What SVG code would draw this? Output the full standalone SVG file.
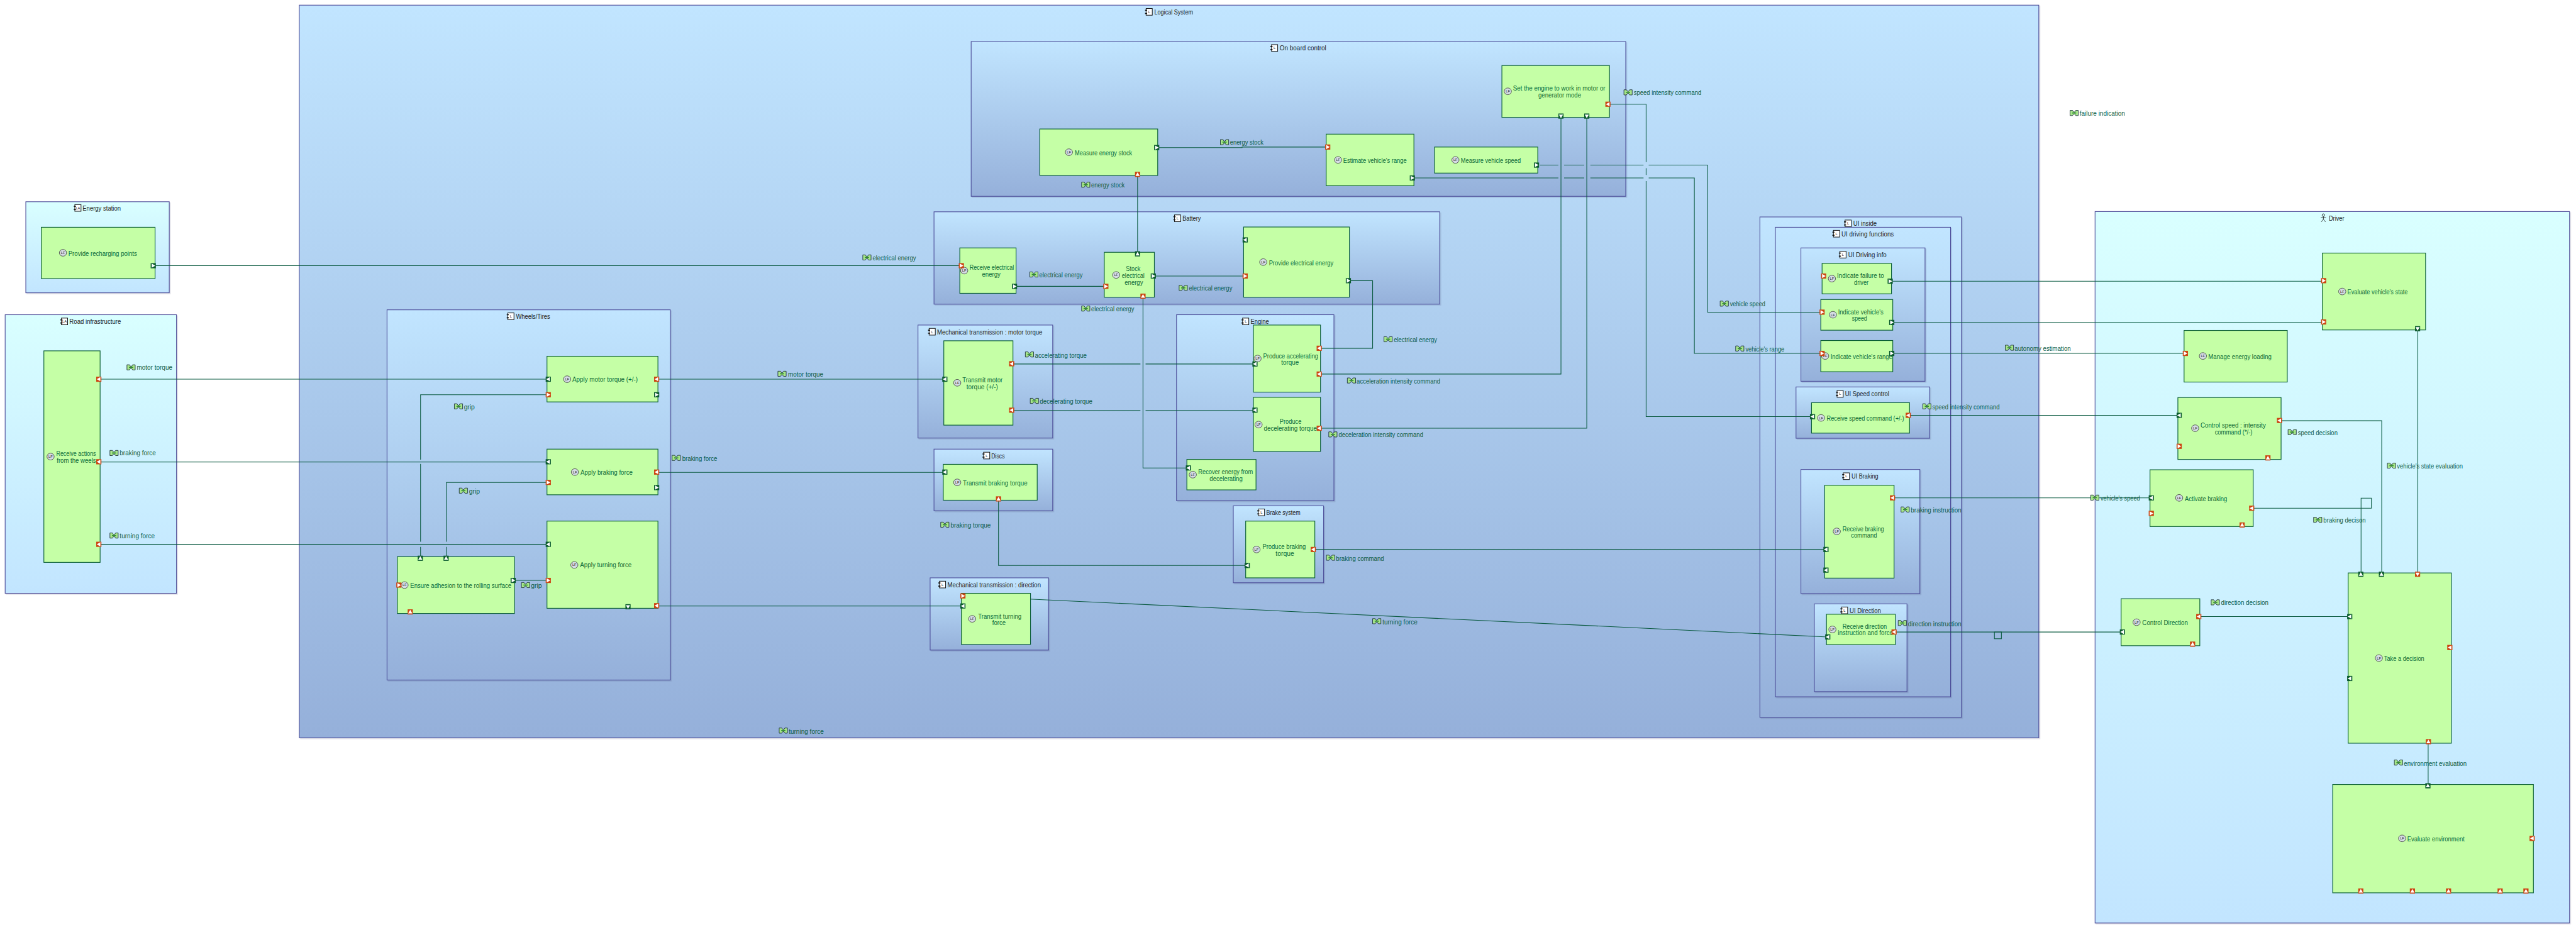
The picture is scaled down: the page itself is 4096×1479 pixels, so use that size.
<svg xmlns="http://www.w3.org/2000/svg" xmlns:xlink="http://www.w3.org/1999/xlink" width="4096" height="1479" viewBox="0 0 4096 1479">
<style>
text{font-family:"Liberation Sans",Arial,sans-serif;font-size:14px;dominant-baseline:central}
.t{fill:#1c1c1c}
.f{fill:#0a6b38}
.x{fill:#0a5c48}
.c{fill:url(#lc);stroke:#4a4a97;stroke-width:1.3;filter:drop-shadow(2px 2px 0 rgba(40,40,90,.15))}
.a{fill:url(#la);stroke:#4a4a97;stroke-width:1.3;filter:drop-shadow(2px 2px 0 rgba(40,40,90,.15))}
.n{fill:#c5ffa6;stroke:#0b5f35;stroke-width:1.4}
.l{fill:none;stroke:#0a5a40;stroke-width:1.3}
.i{font-size:7px;text-anchor:middle;fill:#222}
</style>
<defs>
<linearGradient id="lc" x1="0" y1="0" x2="0" y2="1"><stop offset="0" stop-color="#c1e5ff"/><stop offset="1" stop-color="#95b0da"/></linearGradient>
<linearGradient id="la" x1="0" y1="0" x2="0" y2="1"><stop offset="0" stop-color="#d9ffff"/><stop offset="1" stop-color="#c2e5ff"/></linearGradient>
<g id="gl"><rect x="-5" y="-5" width="10" height="10" fill="#0b5b2e"/><polygon points="3,-4 -4,0 3,4" fill="#fff"/></g>
<g id="gr"><rect x="-5" y="-5" width="10" height="10" fill="#0b5b2e"/><polygon points="-3,-4 4,0 -3,4" fill="#fff"/></g>
<g id="gu"><rect x="-5" y="-5" width="10" height="10" fill="#0b5b2e"/><polygon points="-4,3 0,-4 4,3" fill="#fff"/></g>
<g id="gd"><rect x="-5" y="-5" width="10" height="10" fill="#0b5b2e"/><polygon points="-4,-3 0,4 4,-3" fill="#fff"/></g>
<g id="ol"><rect x="-5" y="-5" width="10" height="10" fill="#cc4411"/><polygon points="3,-4 -4,0 3,4" fill="#fff"/></g>
<g id="or"><rect x="-5" y="-5" width="10" height="10" fill="#cc4411"/><polygon points="-3,-4 4,0 -3,4" fill="#fff"/></g>
<g id="ou"><rect x="-5" y="-5" width="10" height="10" fill="#cc4411"/><polygon points="-4,3 0,-4 4,3" fill="#fff"/></g>
<g id="od"><rect x="-5" y="-5" width="10" height="10" fill="#cc4411"/><polygon points="-4,-3 0,4 4,-3" fill="#fff"/></g>
<g id="ex"><path d="M-8,-5H-3L-1,-2H1L3,-5H8V5H3L1,2H-1L-3,5H-8Z" fill="#a8e68c" stroke="#123" stroke-width="1"/><path d="M-4,0H4" stroke="#2f8a30" stroke-width="2"/></g>
<g id="lf"><ellipse rx="7" ry="6.5" fill="#d5dce4" stroke="#3a3a3a" stroke-width="1"/><text class="i">LF</text></g>
<g id="ic"><rect x="-5" y="-6.500" width="12" height="13" fill="#fff" stroke="#111" stroke-width="1.200"/><path d="M-7,-3H-3M-7,3H-3" stroke="#111" stroke-width="2"/><text class="i" x="1">L</text></g>
<g id="ia"><rect x="-5" y="-6.500" width="12" height="13" fill="#fff" stroke="#111" stroke-width="1.200"/><path d="M-7,-3H-3M-7,3H-3" stroke="#111" stroke-width="2"/><text class="i" x="1">LA</text></g>
<g id="man"><circle cy="-6" r="2.500" fill="none" stroke="#111"/><path d="M0,-3.500V2M-5,-1H5M0,2L-4,7M0,2L4,7" fill="none" stroke="#111"/></g>
</defs>
<rect width="4096" height="1479" fill="#fff"/>
<g transform="scale(0.82051)">

<g id="energy-station"><rect class="a" x="50" y="391" width="278" height="176.500"/><use href="#ia" x="150" y="403"/><text class="t" x="160" y="403" textLength="74" lengthAdjust="spacingAndGlyphs">Energy station</text></g>
<g id="road-infrastructure"><rect class="a" x="10" y="610" width="332" height="540"/><use href="#ia" x="124" y="623"/><text class="t" x="134.500" y="623" textLength="100" lengthAdjust="spacingAndGlyphs">Road infrastructure</text></g>
<g id="driver"><rect class="a" x="4060" y="410" width="919.500" height="1379"/><use href="#man" x="4502.500" y="423"/><text class="t" x="4513" y="423" textLength="30" lengthAdjust="spacingAndGlyphs">Driver</text></g>
<g id="logical-system"><rect class="c" x="580" y="10" width="3371" height="1420"/><use href="#ic" x="2226" y="23"/><text class="t" x="2237" y="23" textLength="75" lengthAdjust="spacingAndGlyphs">Logical System</text></g>
<g id="wheels-tires"><rect class="c" x="750" y="600.500" width="549" height="717.500"/><use href="#ic" x="989" y="613"/><text class="t" x="1000" y="613" textLength="66" lengthAdjust="spacingAndGlyphs">Wheels/Tires</text></g>
<g id="on-board-control"><rect class="c" x="1882" y="80.500" width="1268.500" height="300"/><use href="#ic" x="2469" y="93"/><text class="t" x="2480" y="93" textLength="90" lengthAdjust="spacingAndGlyphs">On board control</text></g>
<g id="battery"><rect class="c" x="1810" y="410.500" width="980" height="179"/><use href="#ic" x="2281" y="423"/><text class="t" x="2291.500" y="423" textLength="35.500" lengthAdjust="spacingAndGlyphs">Battery</text></g>
<g id="mt-motor"><rect class="c" x="1779" y="630" width="261" height="219"/><use href="#ic" x="1805.500" y="643"/><text class="t" x="1816" y="643" textLength="204" lengthAdjust="spacingAndGlyphs">Mechanical transmission : motor torque</text></g>
<g id="engine"><rect class="c" x="2280" y="610" width="305" height="360.500"/><use href="#ic" x="2413" y="623"/><text class="t" x="2423.500" y="623" textLength="35.500" lengthAdjust="spacingAndGlyphs">Engine</text></g>
<g id="discs"><rect class="c" x="1810" y="870.500" width="230" height="119.500"/><use href="#ic" x="1911" y="883"/><text class="t" x="1921" y="883" textLength="26" lengthAdjust="spacingAndGlyphs">Discs</text></g>
<g id="brake-system"><rect class="c" x="2390" y="980.500" width="175" height="149"/><use href="#ic" x="2443.500" y="993"/><text class="t" x="2454" y="993" textLength="66" lengthAdjust="spacingAndGlyphs">Brake system</text></g>
<g id="mt-direction"><rect class="c" x="1802.500" y="1120" width="229.500" height="140"/><use href="#ic" x="1825.500" y="1133"/><text class="t" x="1836" y="1133" textLength="181" lengthAdjust="spacingAndGlyphs">Mechanical transmission : direction</text></g>
<g id="ui-inside"><rect class="c" x="3410.500" y="420.500" width="390.500" height="970"/><use href="#ic" x="3580.500" y="433"/><text class="t" x="3591.500" y="433" textLength="45.500" lengthAdjust="spacingAndGlyphs">UI inside</text></g>
<g id="ui-driving-functions"><rect class="c" x="3440.500" y="440.500" width="339.500" height="910"/><use href="#ic" x="3558" y="453"/><text class="t" x="3568.500" y="453" textLength="101.500" lengthAdjust="spacingAndGlyphs">UI driving functions</text></g>
<g id="ui-driving-info"><rect class="c" x="3490" y="480.500" width="240.500" height="258.500"/><use href="#ic" x="3570.500" y="493.500"/><text class="t" x="3581.500" y="493.500" textLength="74.500" lengthAdjust="spacingAndGlyphs">UI Driving info</text></g>
<g id="ui-speed-control"><rect class="c" x="3480.500" y="750" width="259" height="99.500"/><use href="#ic" x="3565" y="763.500"/><text class="t" x="3575.500" y="763.500" textLength="85.500" lengthAdjust="spacingAndGlyphs">UI Speed control</text></g>
<g id="ui-braking"><rect class="c" x="3490" y="910" width="230.500" height="240.500"/><use href="#ic" x="3577" y="923"/><text class="t" x="3588" y="923" textLength="52" lengthAdjust="spacingAndGlyphs">UI Braking</text></g>
<g id="ui-direction"><rect class="c" x="3516" y="1170.500" width="179.500" height="170"/><use href="#ic" x="3573.500" y="1183"/><text class="t" x="3584.500" y="1183" textLength="60.500" lengthAdjust="spacingAndGlyphs">UI Direction</text></g>

<g id="connectors">
<path class="l" d="M297,515H1863"/>
<path class="l" d="M194,735H1062M1275,735H1831"/>
<path class="l" d="M194,895.500H1060"/>
<path class="l" d="M194,1055H1060"/>
<path class="l" d="M1060,765H815V891M815,899V1050M815,1060V1079"/>
<path class="l" d="M1060,935H865V1050M865,1060V1079"/>
<path class="l" d="M997,1125H1060"/>
<path class="l" d="M1275,915.500H1831"/>
<path class="l" d="M1275,1174.500H1866"/>
<path class="l" d="M2243,286H2407V285H2573"/>
<path class="l" d="M2204.500,340V489"/>
<path class="l" d="M2984,320H3020M3031,320H3070M3082,320H3185M3195,320H3309V605H3531"/>
<path class="l" d="M2740,345H3020M3031,345H3070M3082,345H3185M3195,345H3283.500V685H3531"/>
<path class="l" d="M3119,202H3190V314M3190,326V339M3190,351V807.500H3512"/>
<path class="l" d="M1969,555H2140"/>
<path class="l" d="M2237,535H2410"/>
<path class="l" d="M2615,544H2660V675H2559"/>
<path class="l" d="M2215,576V907H2300"/>
<path class="l" d="M1963,705.500H2210M2220,705.500H2432"/>
<path class="l" d="M1963,795.500H2210M2220,795.500H2432"/>
<path class="l" d="M2559,725H3025V227"/>
<path class="l" d="M2559,830H3075V227"/>
<path class="l" d="M1935,970V1096H2417"/>
<path class="l" d="M2548,1065H3538"/>
<path class="l" d="M1866,1155L3542,1234.500"/>
<path class="l" d="M3668,545H4503"/>
<path class="l" d="M3668,625H4503"/>
<path class="l" d="M3668,685H4235"/>
<path class="l" d="M3700,805H4223"/>
<path class="l" d="M3670,965H4169"/>
<path class="l" d="M3673,1225H4112"/>
<rect class="l" x="3865" y="1225" width="13.500" height="13"/>
<path class="l" d="M4685.500,639V1110"/>
<path class="l" d="M4420,815.500H4615.500V1110"/>
<path class="l" d="M4366,985H4595.500V965.500H4575.500V1110"/>
<path class="l" d="M4263,1195H4550"/>
<path class="l" d="M4705.500,1440V1520"/>
</g>

<g id="f-provide-recharging"><rect class="n" x="80" y="440.500" width="220.500" height="99.500"/><use href="#lf" x="122" y="490"/><text class="f" x="132.500" y="491" textLength="133" lengthAdjust="spacingAndGlyphs">Provide recharging points</text><use href="#gr" x="297" y="515"/></g>
<g id="f-receive-actions"><rect class="n" x="85" y="680" width="109" height="410"/><use href="#lf" x="98" y="885"/><text class="f" x="109" y="879" textLength="77" lengthAdjust="spacingAndGlyphs">Receive actions</text><text class="f" x="110" y="892" textLength="76" lengthAdjust="spacingAndGlyphs">from the weels</text><use href="#ol" x="191.500" y="735"/><use href="#ol" x="191.500" y="895"/><use href="#ol" x="191.500" y="1055"/></g>
<g id="f-apply-motor"><rect class="n" x="1060" y="690.500" width="215" height="88.500"/><use href="#lf" x="1099" y="735"/><text class="f" x="1109" y="735" textLength="127" lengthAdjust="spacingAndGlyphs">Apply motor torque (+/-)</text><use href="#gl" x="1062.500" y="735"/><use href="#or" x="1062.500" y="765"/><use href="#ol" x="1272.500" y="735"/><use href="#gr" x="1272.500" y="765"/></g>
<g id="f-apply-braking"><rect class="n" x="1060" y="870.500" width="215" height="88.500"/><use href="#lf" x="1114" y="915"/><text class="f" x="1125" y="915" textLength="101" lengthAdjust="spacingAndGlyphs">Apply braking force</text><use href="#gl" x="1062.500" y="895"/><use href="#or" x="1062.500" y="935"/><use href="#ol" x="1272.500" y="915"/><use href="#gr" x="1272.500" y="945"/></g>
<g id="f-apply-turning"><rect class="n" x="1060" y="1010" width="215" height="169"/><use href="#lf" x="1113" y="1095"/><text class="f" x="1124" y="1095" textLength="100" lengthAdjust="spacingAndGlyphs">Apply turning force</text><use href="#gl" x="1062.500" y="1055"/><use href="#or" x="1062.500" y="1125"/><use href="#ol" x="1272.500" y="1174"/><use href="#gd" x="1217" y="1176"/></g>
<g id="f-ensure-adhesion"><rect class="n" x="770" y="1079" width="227" height="110"/><use href="#lf" x="784" y="1134"/><text class="f" x="795" y="1135" textLength="196" lengthAdjust="spacingAndGlyphs">Ensure adhesion to the rolling surface</text><use href="#or" x="773" y="1134"/><use href="#ou" x="795" y="1186"/><use href="#gr" x="994.500" y="1125"/><use href="#gu" x="814.500" y="1082"/><use href="#gu" x="864.500" y="1082"/></g>

<g id="f-set-engine"><rect class="n" x="2910.500" y="127" width="208.500" height="100.500"/><use href="#lf" x="2922" y="177"/><text class="f" x="2932" y="171" textLength="179" lengthAdjust="spacingAndGlyphs">Set the engine to work in motor or</text><text class="f" x="2981" y="184.500" textLength="83" lengthAdjust="spacingAndGlyphs">generator mode</text><use href="#ol" x="3116" y="202"/><use href="#gd" x="3025" y="225"/><use href="#gd" x="3075" y="225"/></g>
<g id="f-measure-energy"><rect class="n" x="2015" y="250" width="228.500" height="90"/><use href="#lf" x="2071.500" y="295"/><text class="f" x="2083" y="296" textLength="111" lengthAdjust="spacingAndGlyphs">Measure energy stock</text><use href="#gr" x="2241.500" y="286"/><use href="#ou" x="2204.500" y="338"/></g>
<g id="f-estimate-range"><rect class="n" x="2570" y="260" width="170" height="100"/><use href="#lf" x="2593" y="310"/><text class="f" x="2603" y="311" textLength="123" lengthAdjust="spacingAndGlyphs">Estimate vehicle's range</text><use href="#or" x="2573" y="285"/><use href="#gr" x="2737" y="345"/></g>
<g id="f-measure-speed"><rect class="n" x="2780" y="285" width="200" height="50.500"/><use href="#lf" x="2820.500" y="310"/><text class="f" x="2831" y="311" textLength="116" lengthAdjust="spacingAndGlyphs">Measure vehicle speed</text><use href="#gr" x="2977.500" y="320"/></g>
<g id="f-receive-electrical"><rect class="n" x="1860" y="480.500" width="109" height="88"/><use href="#lf" x="1868.500" y="524.500"/><text class="f" x="1879" y="518" textLength="86" lengthAdjust="spacingAndGlyphs">Receive electrical</text><text class="f" x="1903" y="531.500" textLength="36" lengthAdjust="spacingAndGlyphs">energy</text><use href="#or" x="1863" y="515"/><use href="#gr" x="1966" y="555"/></g>
<g id="f-stock-electrical"><rect class="n" x="2140" y="489" width="97" height="87"/><use href="#lf" x="2163" y="533"/><text class="f" x="2182" y="520" textLength="28" lengthAdjust="spacingAndGlyphs">Stock</text><text class="f" x="2174" y="533.500" textLength="44" lengthAdjust="spacingAndGlyphs">electrical</text><text class="f" x="2179.500" y="547" textLength="35.500" lengthAdjust="spacingAndGlyphs">energy</text><use href="#or" x="2143" y="555"/><use href="#gr" x="2235" y="535"/><use href="#gu" x="2204.500" y="492"/><use href="#ou" x="2215" y="574"/></g>
<g id="f-provide-electrical"><rect class="n" x="2410" y="440" width="205" height="136"/><use href="#lf" x="2448" y="508"/><text class="f" x="2459" y="509.500" textLength="125" lengthAdjust="spacingAndGlyphs">Provide electrical energy</text><use href="#gl" x="2413" y="465"/><use href="#or" x="2413" y="535"/><use href="#gr" x="2613" y="544"/></g>
<g id="f-transmit-motor"><rect class="n" x="1829" y="660.500" width="134" height="163.500"/><use href="#lf" x="1855" y="742"/><text class="f" x="1865" y="736.500" textLength="78" lengthAdjust="spacingAndGlyphs">Transmit motor</text><text class="f" x="1873" y="749.500" textLength="61" lengthAdjust="spacingAndGlyphs">torque (+/-)</text><use href="#gl" x="1831" y="735"/><use href="#ol" x="1960.500" y="705"/><use href="#ol" x="1960.500" y="795"/></g>
<g id="f-produce-accelerating"><rect class="n" x="2429" y="630" width="130" height="130"/><use href="#lf" x="2437" y="695"/><text class="f" x="2448" y="689.500" textLength="106.500" lengthAdjust="spacingAndGlyphs">Produce accelerating</text><text class="f" x="2483" y="702.500" textLength="34" lengthAdjust="spacingAndGlyphs">torque</text><use href="#gl" x="2432" y="705.500"/><use href="#ol" x="2556.500" y="675"/><use href="#ol" x="2556.500" y="725"/></g>
<g id="f-produce-decelerating"><rect class="n" x="2429" y="770" width="130" height="105"/><use href="#lf" x="2439" y="823"/><text class="f" x="2480" y="817" textLength="42" lengthAdjust="spacingAndGlyphs">Produce</text><text class="f" x="2449" y="830" textLength="103" lengthAdjust="spacingAndGlyphs">decelerating torque</text><use href="#gl" x="2432" y="795"/><use href="#ol" x="2556.500" y="830"/></g>
<g id="f-recover-energy"><rect class="n" x="2300" y="890.500" width="134" height="59"/><use href="#lf" x="2311.500" y="920"/><text class="f" x="2322" y="914" textLength="106" lengthAdjust="spacingAndGlyphs">Recover energy from</text><text class="f" x="2344" y="927" textLength="64" lengthAdjust="spacingAndGlyphs">decelerating</text><use href="#gl" x="2303" y="907"/></g>
<g id="f-transmit-braking"><rect class="n" x="1828" y="900" width="182" height="69.500"/><use href="#lf" x="1855" y="935"/><text class="f" x="1866" y="935.500" textLength="125" lengthAdjust="spacingAndGlyphs">Transmit braking torque</text><use href="#gl" x="1831" y="915"/><use href="#ou" x="1935" y="967"/></g>
<g id="f-produce-braking"><rect class="n" x="2414" y="1010" width="134" height="110"/><use href="#lf" x="2435" y="1065"/><text class="f" x="2446.500" y="1059" textLength="84" lengthAdjust="spacingAndGlyphs">Produce braking</text><text class="f" x="2472" y="1072" textLength="36" lengthAdjust="spacingAndGlyphs">torque</text><use href="#ol" x="2545" y="1065"/><use href="#gl" x="2417" y="1096"/></g>
<g id="f-transmit-turning"><rect class="n" x="1863" y="1150" width="134" height="99"/><use href="#lf" x="1884" y="1199.500"/><text class="f" x="1895.500" y="1194.500" textLength="84" lengthAdjust="spacingAndGlyphs">Transmit turning</text><text class="f" x="1923" y="1207" textLength="26" lengthAdjust="spacingAndGlyphs">force</text><use href="#or" x="1866" y="1155"/><use href="#gl" x="1866" y="1174.500"/></g>

<g id="f-indicate-failure"><rect class="n" x="3531" y="510.500" width="134.500" height="59"/><use href="#lf" x="3550" y="540"/><text class="f" x="3560" y="534" textLength="91" lengthAdjust="spacingAndGlyphs">Indicate failure to</text><text class="f" x="3593" y="547" textLength="28" lengthAdjust="spacingAndGlyphs">driver</text><use href="#or" x="3534" y="535"/><use href="#gr" x="3663" y="545"/></g>
<g id="f-indicate-speed"><rect class="n" x="3528.500" y="580.500" width="139.500" height="59.500"/><use href="#lf" x="3552" y="610"/><text class="f" x="3562" y="604" textLength="88" lengthAdjust="spacingAndGlyphs">Indicate vehicle's</text><text class="f" x="3589" y="617" textLength="29" lengthAdjust="spacingAndGlyphs">speed</text><use href="#or" x="3531" y="605"/><use href="#gr" x="3666" y="625"/></g>
<g id="f-indicate-range"><rect class="n" x="3528.500" y="660" width="139.500" height="60.500"/><use href="#lf" x="3537" y="690"/><text class="f" x="3547.500" y="691" textLength="119.500" lengthAdjust="spacingAndGlyphs">Indicate vehicle's range</text><use href="#or" x="3531" y="685"/><use href="#gr" x="3666" y="685"/></g>
<g id="f-receive-speed"><rect class="n" x="3510.500" y="780.500" width="190" height="59"/><use href="#lf" x="3529" y="810"/><text class="f" x="3540" y="810" textLength="150" lengthAdjust="spacingAndGlyphs">Receive speed command (+/-)</text><use href="#gl" x="3512.500" y="807.500"/><use href="#ol" x="3698" y="805"/></g>
<g id="f-receive-braking"><rect class="n" x="3536" y="940.500" width="134.500" height="180"/><use href="#lf" x="3559.500" y="1030"/><text class="f" x="3570.500" y="1024.500" textLength="80.500" lengthAdjust="spacingAndGlyphs">Receive braking</text><text class="f" x="3587" y="1037.500" textLength="50.500" lengthAdjust="spacingAndGlyphs">command</text><use href="#ol" x="3667.500" y="965"/><use href="#gl" x="3538.500" y="1065"/><use href="#gl" x="3538.500" y="1105"/></g>
<g id="f-receive-direction"><rect class="n" x="3539.500" y="1190.500" width="133.500" height="59"/><use href="#lf" x="3551" y="1220"/><text class="f" x="3570.500" y="1214" textLength="86" lengthAdjust="spacingAndGlyphs">Receive direction</text><text class="f" x="3561.500" y="1226.500" textLength="107" lengthAdjust="spacingAndGlyphs">instruction and force</text><use href="#gl" x="3542" y="1234.500"/><use href="#ol" x="3670.500" y="1225"/></g>

<g id="f-evaluate-state"><rect class="n" x="4500.500" y="490.500" width="200" height="149"/><use href="#lf" x="4539" y="565"/><text class="f" x="4549" y="565" textLength="117" lengthAdjust="spacingAndGlyphs">Evaluate vehicle's state</text><use href="#or" x="4503" y="544"/><use href="#or" x="4503" y="624"/><use href="#gd" x="4685" y="637"/></g>
<g id="f-manage-energy"><rect class="n" x="4232.500" y="640.500" width="200" height="100"/><use href="#lf" x="4269" y="690"/><text class="f" x="4279.500" y="691" textLength="122.500" lengthAdjust="spacingAndGlyphs">Manage energy loading</text><use href="#or" x="4235" y="685"/></g>
<g id="f-control-speed"><rect class="n" x="4220.500" y="770.500" width="200" height="120"/><use href="#lf" x="4254" y="830"/><text class="f" x="4264.500" y="824" textLength="126.500" lengthAdjust="spacingAndGlyphs">Control speed : intensity</text><text class="f" x="4292" y="837" textLength="73" lengthAdjust="spacingAndGlyphs">command (*/-)</text><use href="#gl" x="4223" y="805"/><use href="#ol" x="4417.500" y="815"/><use href="#or" x="4223" y="865"/><use href="#ou" x="4395" y="887.500"/></g>
<g id="f-activate-braking"><rect class="n" x="4166.500" y="910.500" width="200" height="110"/><use href="#lf" x="4223" y="965"/><text class="f" x="4234" y="966" textLength="82" lengthAdjust="spacingAndGlyphs">Activate braking</text><use href="#gl" x="4169" y="965"/><use href="#or" x="4169" y="995"/><use href="#ol" x="4363.500" y="985"/><use href="#ou" x="4345" y="1017.500"/></g>
<g id="f-control-direction"><rect class="n" x="4110.500" y="1160.500" width="152.500" height="91"/><use href="#lf" x="4140.500" y="1206"/><text class="f" x="4151.500" y="1206.500" textLength="88.500" lengthAdjust="spacingAndGlyphs">Control Direction</text><use href="#ol" x="4261" y="1195"/><use href="#gl" x="4113" y="1225"/><use href="#ou" x="4249" y="1248.500"/></g>
<g id="f-take-decision"><rect class="n" x="4550.500" y="1110.500" width="200" height="330"/><use href="#lf" x="4610" y="1275.500"/><text class="f" x="4620" y="1276" textLength="78" lengthAdjust="spacingAndGlyphs">Take a decision</text><use href="#gu" x="4575" y="1113"/><use href="#gu" x="4615" y="1113"/><use href="#od" x="4685" y="1113"/><use href="#gl" x="4553.500" y="1195"/><use href="#gl" x="4553.500" y="1315"/><use href="#ol" x="4747.500" y="1255"/><use href="#ou" x="4706" y="1437.500"/></g>
<g id="f-evaluate-environment"><rect class="n" x="4520.500" y="1520.500" width="389" height="210"/><use href="#lf" x="4655" y="1625"/><text class="f" x="4665" y="1626" textLength="111" lengthAdjust="spacingAndGlyphs">Evaluate environment</text><use href="#gu" x="4705" y="1523"/><use href="#ol" x="4907" y="1625"/><use href="#ou" x="4575" y="1727"/><use href="#ou" x="4675" y="1727"/><use href="#ou" x="4745" y="1727"/><use href="#ou" x="4845" y="1727"/><use href="#ou" x="4895" y="1727"/></g>

<g id="exchange-labels">
<use href="#ex" x="254" y="712"/><text class="x" x="265" y="712" textLength="69" lengthAdjust="spacingAndGlyphs">motor torque</text>
<use href="#ex" x="221" y="878"/><text class="x" x="232" y="878" textLength="70" lengthAdjust="spacingAndGlyphs">braking force</text>
<use href="#ex" x="221" y="1038"/><text class="x" x="232" y="1038" textLength="68" lengthAdjust="spacingAndGlyphs">turning force</text>
<use href="#ex" x="888.500" y="787.500"/><text class="x" x="899" y="788" textLength="21" lengthAdjust="spacingAndGlyphs">grip</text>
<use href="#ex" x="898" y="951"/><text class="x" x="909" y="951.500" textLength="21" lengthAdjust="spacingAndGlyphs">grip</text>
<use href="#ex" x="1018.500" y="1134"/><text class="x" x="1029" y="1134.500" textLength="21" lengthAdjust="spacingAndGlyphs">grip</text>
<use href="#ex" x="1515.500" y="724.500"/><text class="x" x="1527" y="725" textLength="68.500" lengthAdjust="spacingAndGlyphs">motor torque</text>
<use href="#ex" x="1310.500" y="887.500"/><text class="x" x="1322" y="888" textLength="68" lengthAdjust="spacingAndGlyphs">braking force</text>
<use href="#ex" x="1518" y="1416"/><text class="x" x="1528.500" y="1417" textLength="68" lengthAdjust="spacingAndGlyphs">turning force</text>
<use href="#ex" x="1680" y="499"/><text class="x" x="1691" y="499.500" textLength="84" lengthAdjust="spacingAndGlyphs">electrical energy</text>
<use href="#ex" x="2003.500" y="532"/><text class="x" x="2014" y="532.500" textLength="84" lengthAdjust="spacingAndGlyphs">electrical energy</text>
<use href="#ex" x="2293" y="558"/><text class="x" x="2304" y="558.500" textLength="84" lengthAdjust="spacingAndGlyphs">electrical energy</text>
<use href="#ex" x="2104" y="598"/><text class="x" x="2114.500" y="598.500" textLength="83.500" lengthAdjust="spacingAndGlyphs">electrical energy</text>
<use href="#ex" x="2690" y="657.500"/><text class="x" x="2701" y="658" textLength="84" lengthAdjust="spacingAndGlyphs">electrical energy</text>
<use href="#ex" x="2373" y="275.500"/><text class="x" x="2383.500" y="276" textLength="65" lengthAdjust="spacingAndGlyphs">energy stock</text>
<use href="#ex" x="2104" y="358"/><text class="x" x="2114.500" y="358.500" textLength="65" lengthAdjust="spacingAndGlyphs">energy stock</text>
<use href="#ex" x="3155" y="179"/><text class="x" x="3166" y="179" textLength="131" lengthAdjust="spacingAndGlyphs">speed intensity command</text>
<use href="#ex" x="1995" y="687"/><text class="x" x="2005.500" y="689" textLength="100.500" lengthAdjust="spacingAndGlyphs">accelerating torque</text>
<use href="#ex" x="2004.500" y="777"/><text class="x" x="2015" y="778" textLength="102" lengthAdjust="spacingAndGlyphs">decelerating torque</text>
<use href="#ex" x="2619" y="737.500"/><text class="x" x="2629" y="738" textLength="162" lengthAdjust="spacingAndGlyphs">acceleration intensity command</text>
<use href="#ex" x="2583" y="842"/><text class="x" x="2594" y="842.500" textLength="164" lengthAdjust="spacingAndGlyphs">deceleration intensity command</text>
<use href="#ex" x="1831" y="1017"/><text class="x" x="1842" y="1018" textLength="78" lengthAdjust="spacingAndGlyphs">braking torque</text>
<use href="#ex" x="2578.500" y="1081"/><text class="x" x="2589" y="1082" textLength="93" lengthAdjust="spacingAndGlyphs">braking command</text>
<use href="#ex" x="2668" y="1204"/><text class="x" x="2679" y="1205" textLength="68" lengthAdjust="spacingAndGlyphs">turning force</text>
<use href="#ex" x="4019.500" y="219"/><text class="x" x="4030" y="219.500" textLength="88" lengthAdjust="spacingAndGlyphs">failure indication</text>
<use href="#ex" x="3341.500" y="588.500"/><text class="x" x="3352.500" y="589" textLength="68.500" lengthAdjust="spacingAndGlyphs">vehicle speed</text>
<use href="#ex" x="3371.500" y="675.500"/><text class="x" x="3382.500" y="676" textLength="75.500" lengthAdjust="spacingAndGlyphs">vehicle's range</text>
<use href="#ex" x="3894" y="674"/><text class="x" x="3904" y="675" textLength="109" lengthAdjust="spacingAndGlyphs">autonomy estimation</text>
<use href="#ex" x="3734" y="787.500"/><text class="x" x="3744.500" y="788" textLength="130.500" lengthAdjust="spacingAndGlyphs">speed intensity command</text>
<use href="#ex" x="3692" y="987.500"/><text class="x" x="3703" y="988.500" textLength="98" lengthAdjust="spacingAndGlyphs">braking instruction</text>
<use href="#ex" x="4059.500" y="964.500"/><text class="x" x="4070.500" y="965" textLength="76.500" lengthAdjust="spacingAndGlyphs">vehicle's speed</text>
<use href="#ex" x="3686.500" y="1207.500"/><text class="x" x="3697.500" y="1208.500" textLength="103.500" lengthAdjust="spacingAndGlyphs">direction instruction</text>
<use href="#ex" x="4442" y="837.500"/><text class="x" x="4453" y="838.500" textLength="77" lengthAdjust="spacingAndGlyphs">speed decision</text>
<use href="#ex" x="4634.500" y="902.500"/><text class="x" x="4645" y="903" textLength="127.500" lengthAdjust="spacingAndGlyphs">vehicle's state evaluation</text>
<use href="#ex" x="4491.500" y="1007.500"/><text class="x" x="4502.500" y="1008" textLength="82" lengthAdjust="spacingAndGlyphs">braking decison</text>
<use href="#ex" x="4293" y="1167.500"/><text class="x" x="4304" y="1168" textLength="92" lengthAdjust="spacingAndGlyphs">direction decision</text>
<use href="#ex" x="4648" y="1478"/><text class="x" x="4658.500" y="1479" textLength="121.500" lengthAdjust="spacingAndGlyphs">environment evaluation</text>
</g>
</g>
</svg>
